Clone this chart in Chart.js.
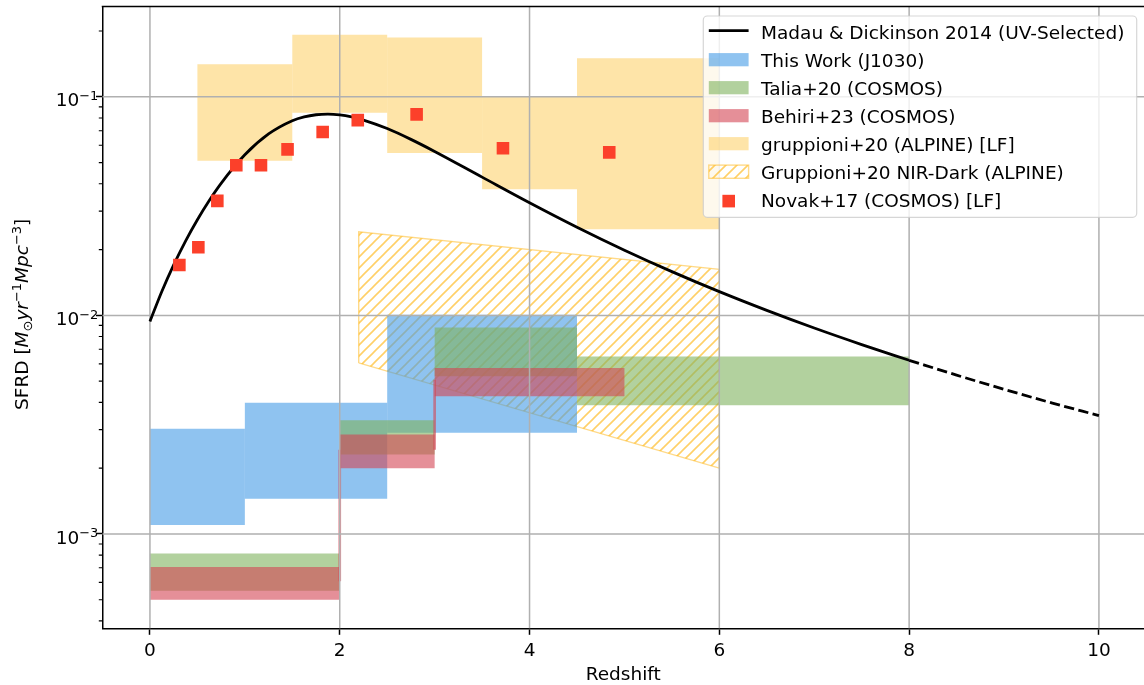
<!DOCTYPE html>
<html><head><meta charset="utf-8">
<script src="https://cdn.jsdelivr.net/npm/chart.js@4/dist/chart.umd.min.js"></script>
<style>html,body{margin:0;padding:0;background:#fff;overflow:hidden}canvas{display:block}</style>
</head><body>
<canvas id="c" width="1144" height="685"></canvas>
<script>
// ---------------- data ----------------
const madauZ = [0,0.125,0.25,0.375,0.5,0.625,0.75,1,1.25,1.5,1.625,1.75,1.875,2,2.125,2.25,2.5,2.75,3,3.5,4,4.5,5,5.5,6,6.5,7,7.5,8];
const madauSFRD = [0.00938,0.01286,0.01702,0.02188,0.02741,0.03356,0.04021,0.05431,0.06762,0.07772,0.08095,0.08279,0.08333,0.08264,0.08089,0.07829,0.07159,0.06387,0.05625,0.04292,0.03278,0.02533,0.01988,0.01586,0.01284,0.01054,0.00875,0.00735,0.00623];
const madauExtZ = [8,8.5,9,9.5,10];
const madauExtSFRD = [0.00623,0.00533,0.00459,0.00398,0.00348];

const thisWorkZLo = [0,1,2.5];
const thisWorkZHi = [1,2.5,4.5];
const thisWorkLo  = [0.00110,0.00145,0.00290];
const thisWorkHi  = [0.00303,0.00398,0.01007];

const taliaZLo = [0,2,3,4.5];
const taliaZHi = [2,3,4.5,8];
const taliaLo  = [0.000550,0.00231,0.00526,0.00388];
const taliaHi  = [0.000813,0.00331,0.00881,0.00649];

const behiriZLo = [0,2,3];
const behiriZHi = [2,3,5];
const behiriLo  = [0.000500,0.00200,0.00426];
const behiriHi  = [0.000706,0.00285,0.00574];
const behiriStepZ  = [2,3];
const behiriStepLo = [0.000607,0.00243];
const behiriStepHi = [0.00243,0.00508];

const gruppZLo = [0.5,1.5,2.5,3.5,4.5];
const gruppZHi = [1.5,2.5,3.5,4.5,6];
const gruppLo  = [0.0510,0.0845,0.0554,0.0378,0.0248];
const gruppHi  = [0.1411,0.1921,0.1869,0.1000,0.1503];

const nirDarkZ  = [2.2,6];
const nirDarkLo = [0.00606,0.00200];
const nirDarkHi = [0.02412,0.01623];

const novakZ    = [0.31,0.51,0.71,0.91,1.17,1.45,1.82,2.19,2.81,3.72,4.84];
const novakSFRD = [0.0170,0.0205,0.0334,0.0486,0.0486,0.0575,0.0690,0.0782,0.0831,0.0582,0.0557];

const xTicks = [0,2,4,6,8,10];
const yMajorTicks = [1e-3,1e-2,1e-1];
const yTickBase = ['10','10','10'];
const yTickExp  = ['\u22123','\u22122','\u22121'];
const yMinorTicks = [4e-4,5e-4,6e-4,7e-4,8e-4,9e-4,2e-3,3e-3,4e-3,5e-3,6e-3,7e-3,8e-3,9e-3,2e-2,3e-2,4e-2,5e-2,6e-2,7e-2,8e-2,9e-2,2e-1];
const legendLabels = ['Madau & Dickinson 2014 (UV-Selected)','This Work (J1030)','Talia+20 (COSMOS)','Behiri+23 (COSMOS)','gruppioni+20 (ALPINE) [LF]','Gruppioni+20 NIR-Dark (ALPINE)','Novak+17 (COSMOS) [LF]'];
const xLabel = 'Redshift';

// ---------------- styles ----------------
const FS = 18.5;
const FONT = '"DejaVu Sans"';
const COL = {
  blue: 'rgba(68,155,230,0.6)',
  green: 'rgba(127,178,93,0.6)',
  red: 'rgba(212,68,83,0.6)',
  orange: 'rgba(253,210,110,0.6)',
  hatch: 'rgba(255,188,40,0.7)',
  hatchEdge: 'rgba(255,188,40,0.55)',
  novak: 'rgb(252,64,42)',
  grid: '#b0b0b0'
};

Chart.defaults.font.family = FONT;
Chart.defaults.font.size = FS;
Chart.defaults.color = '#000';

const cv = document.getElementById('c');
const ctx0 = cv.getContext('2d');

function makeHatch() {
  const s = 11;
  const c = document.createElement('canvas');
  c.width = s; c.height = s;
  const g = c.getContext('2d');
  g.strokeStyle = COL.hatch;
  g.lineWidth = 1.6;
  g.beginPath();
  g.moveTo(-2, s + 2); g.lineTo(s + 2, -2);
  g.moveTo(-2, 2); g.lineTo(2, -2);
  g.moveTo(s - 2, s + 2); g.lineTo(s + 2, s - 2);
  g.stroke();
  return ctx0.createPattern(c, 'repeat');
}
const hatchPattern = makeHatch();

// ---------------- datasets ----------------
const datasets = [];
function boxData(x0, x1, lo, hi) {
  return [{x: x0, y: lo}, {x: x0, y: hi}, {x: x1, y: hi}, {x: x1, y: lo}];
}
function addBoxes(zlo, zhi, lo, hi, color, order) {
  for (let i = 0; i < zlo.length; i++) {
    datasets.push({
      data: boxData(zlo[i], zhi[i], lo[i], hi[i]),
      fill: 'shape', backgroundColor: color,
      borderColor: 'rgba(0,0,0,0)', borderWidth: 0,
      pointRadius: 0, order: order
    });
  }
}
datasets.push({
  data: [{x: nirDarkZ[0], y: nirDarkLo[0]}, {x: nirDarkZ[0], y: nirDarkHi[0]}, {x: nirDarkZ[1], y: nirDarkHi[1]}, {x: nirDarkZ[1], y: nirDarkLo[1]}],
  fill: 'shape', backgroundColor: hatchPattern,
  borderColor: 'rgba(0,0,0,0)', borderWidth: 0, pointRadius: 0, order: 60
});
datasets.push({
  data: [{x: nirDarkZ[0], y: nirDarkLo[0]}, {x: nirDarkZ[0], y: nirDarkHi[0]}, {x: nirDarkZ[1], y: nirDarkHi[1]}, {x: nirDarkZ[1], y: nirDarkLo[1]}, {x: nirDarkZ[0], y: nirDarkLo[0]}],
  fill: false, borderColor: COL.hatchEdge, borderWidth: 1.4, pointRadius: 0, order: 60
});
addBoxes(gruppZLo, gruppZHi, gruppLo, gruppHi, COL.orange, 50);
addBoxes(thisWorkZLo, thisWorkZHi, thisWorkLo, thisWorkHi, COL.blue, 40);
addBoxes(taliaZLo, taliaZHi, taliaLo, taliaHi, COL.green, 30);
addBoxes(behiriZLo, behiriZHi, behiriLo, behiriHi, COL.red, 20);
for (let i = 0; i < behiriStepZ.length; i++) {
  datasets.push({
    data: [{x: behiriStepZ[i], y: behiriStepLo[i]}, {x: behiriStepZ[i], y: behiriStepHi[i]}],
    fill: false, borderColor: COL.red, borderWidth: 2.7, pointRadius: 0, order: 20
  });
}
datasets.push({data: [], isGridLayer: true, order: 10, pointRadius: 0, borderWidth: 0});
datasets.push({
  data: madauZ.map((z, i) => ({x: z, y: madauSFRD[i]})),
  fill: false, borderColor: '#000', borderWidth: 2.8, pointRadius: 0,
  cubicInterpolationMode: 'monotone', order: 5
});
datasets.push({
  data: madauExtZ.map((z, i) => ({x: z, y: madauExtSFRD[i]})),
  fill: false, borderColor: '#000', borderWidth: 2.8, borderDash: [10.3, 4.4], pointRadius: 0,
  cubicInterpolationMode: 'monotone', order: 5
});
datasets.push({
  data: novakZ.map((z, i) => ({x: z, y: novakSFRD[i]})),
  showLine: false, fill: false, pointStyle: 'rect', pointRadius: 8.9,
  pointBackgroundColor: COL.novak, pointBorderColor: 'rgba(0,0,0,0)', pointBorderWidth: 0, order: 0
});

// ---------------- custom drawing (matplotlib look) ----------------
function drawGrid(chart) {
  const ctx = chart.ctx, ca = chart.chartArea, xs = chart.scales.x, ys = chart.scales.y;
  ctx.save();
  ctx.strokeStyle = COL.grid; ctx.lineWidth = 1.5;
  ctx.beginPath();
  xTicks.forEach(v => { const px = xs.getPixelForValue(v); ctx.moveTo(px, ca.top); ctx.lineTo(px, ca.bottom); });
  yMajorTicks.forEach(v => { const py = ys.getPixelForValue(v); ctx.moveTo(ca.left, py); ctx.lineTo(ca.right, py); });
  ctx.stroke();
  ctx.restore();
}
function drawAxesExtras(chart) {
  const ctx = chart.ctx, ca = chart.chartArea, ys = chart.scales.y;
  ctx.save();
  ctx.strokeStyle = '#000'; ctx.lineWidth = 1.5;
  ctx.beginPath(); ctx.moveTo(ca.left - 0.75, ca.top); ctx.lineTo(ca.right, ca.top); ctx.stroke();
  ctx.lineWidth = 1.1;
  ctx.beginPath();
  yMinorTicks.forEach(v => { const py = ys.getPixelForValue(v); ctx.moveTo(ca.left - 3.7, py); ctx.lineTo(ca.left, py); });
  ctx.stroke();
  ctx.fillStyle = '#000'; ctx.textBaseline = 'alphabetic'; ctx.textAlign = 'left';
  yMajorTicks.forEach((v, i) => {
    const py = ys.getPixelForValue(v);
    ctx.font = FS + 'px ' + FONT;
    const w1 = ctx.measureText(yTickBase[i]).width;
    ctx.font = (FS * 0.7) + 'px ' + FONT;
    const w2 = ctx.measureText(yTickExp[i]).width;
    const x0 = 98.3 - w1 - w2;
    const base = py + 9.6;
    ctx.font = FS + 'px ' + FONT;
    ctx.fillText(yTickBase[i], x0, base);
    ctx.font = (FS * 0.7) + 'px ' + FONT;
    ctx.fillText(yTickExp[i], x0 + w1, base - 6.3);
  });
  const parts = [
    {t: 'SFRD [', it: false, s: 1, dy: 0},
    {t: 'M', it: true, s: 1, dy: 0},
    {t: '\u2299', it: false, s: 0.7, dy: 3.5},
    {t: 'yr', it: true, s: 1, dy: 0},
    {t: '\u22121', it: false, s: 0.7, dy: -7},
    {t: 'Mpc', it: true, s: 1, dy: 0},
    {t: '\u22123', it: false, s: 0.7, dy: -7},
    {t: ']', it: false, s: 1, dy: 0}
  ];
  let total = 0;
  parts.forEach(p => { ctx.font = (p.it ? 'italic ' : '') + (FS * p.s) + 'px ' + FONT; p.w = ctx.measureText(p.t).width; total += p.w; });
  ctx.translate(28.3, (ca.top + ca.bottom) / 2 - 3);
  ctx.rotate(-Math.PI / 2);
  let x = -total / 2;
  parts.forEach(p => { ctx.font = (p.it ? 'italic ' : '') + (FS * p.s) + 'px ' + FONT; ctx.fillText(p.t, x, p.dy); x += p.w; });
  ctx.restore();
}
function drawLegend(chart) {
  const ctx = chart.ctx;
  ctx.save();
  const L = 703.3, T = 16, W = 433.4, H = 201.3, r = 4;
  ctx.beginPath();
  ctx.roundRect(L, T, W, H, r);
  ctx.fillStyle = 'rgba(255,255,255,0.8)';
  ctx.fill();
  ctx.strokeStyle = 'rgba(204,204,204,0.8)';
  ctx.lineWidth = 1.2;
  ctx.stroke();
  const hx0 = 708.8, hx1 = 748.6;
  const kinds = ['line', 'patch', 'patch', 'patch', 'patch', 'hatch', 'marker'];
  const fills = [null, COL.blue, COL.green, COL.red, COL.orange, null, COL.novak];
  legendLabels.forEach((lab, i) => {
    const base = 38.7 + 28.0 * i;
    const k = kinds[i];
    if (k === 'line') {
      ctx.strokeStyle = '#000'; ctx.lineWidth = 2.8;
      ctx.beginPath(); ctx.moveTo(hx0, base - 8); ctx.lineTo(hx1, base - 8); ctx.stroke();
    } else if (k === 'patch') {
      ctx.fillStyle = fills[i];
      ctx.fillRect(hx0, base - 13.6, hx1 - hx0, 13.2);
    } else if (k === 'hatch') {
      ctx.fillStyle = hatchPattern;
      ctx.fillRect(hx0, base - 13.6, hx1 - hx0, 13.2);
      ctx.strokeStyle = COL.hatchEdge; ctx.lineWidth = 1.4;
      ctx.strokeRect(hx0, base - 13.6, hx1 - hx0, 13.2);
    } else {
      ctx.fillStyle = fills[i];
      ctx.fillRect(728.7 - 6.3, base - 5.6 - 6.3, 12.6, 12.6);
    }
    ctx.fillStyle = '#000';
    ctx.font = FS + 'px ' + FONT;
    ctx.textBaseline = 'alphabetic'; ctx.textAlign = 'left';
    ctx.fillText(lab, 761, base);
  });
  ctx.restore();
}
const mplPlugin = {
  id: 'mpl',
  beforeDatasetDraw(chart, args) {
    if (chart.data.datasets[args.index] && chart.data.datasets[args.index].isGridLayer) drawGrid(chart);
  },
  afterDraw(chart) {
    drawAxesExtras(chart);
    drawLegend(chart);
  }
};

new Chart(cv, {
  type: 'line',
  data: {datasets: datasets},
  options: {
    responsive: false, animation: false, devicePixelRatio: 1, events: [],
    layout: {autoPadding: false, padding: {top: 6.5, left: 0, right: 0, bottom: 0}},
    plugins: {legend: {display: false}, tooltip: {enabled: false}},
    scales: {
      x: {
        type: 'linear', min: -0.5, max: 10.475,
        afterBuildTicks: s => { s.ticks = xTicks.map(v => ({value: v})); },
        afterFit: s => { s.height = 56.7; s.paddingLeft = 0; s.paddingRight = 0; s.paddingTop = 0; s.paddingBottom = 0; },
        grid: {drawOnChartArea: false, drawTicks: true, tickLength: 6.5, tickColor: '#000', tickWidth: 1.5},
        border: {display: true, color: '#000', width: 1.5},
        ticks: {padding: 5.2, maxRotation: 0, autoSkip: false, color: '#000', font: {size: FS}, callback: v => String(v)},
        title: {display: true, text: xLabel, color: '#000', font: {size: FS, lineHeight: 1}, padding: {top: 0, bottom: 0.75}}
      },
      y: {
        type: 'logarithmic', min: 3.70e-4, max: 0.259,
        afterBuildTicks: s => { s.ticks = yMajorTicks.map(v => ({value: v})); },
        afterFit: s => { s.width = 102.5; s.paddingLeft = 0; s.paddingRight = 0; s.paddingTop = 0; s.paddingBottom = 0; },
        grid: {drawOnChartArea: false, drawTicks: true, tickLength: 6.5, tickColor: '#000', tickWidth: 1.5},
        border: {display: true, color: '#000', width: 1.5},
        ticks: {display: false}
      }
    }
  },
  plugins: [mplPlugin]
});
</script>
</body></html>
